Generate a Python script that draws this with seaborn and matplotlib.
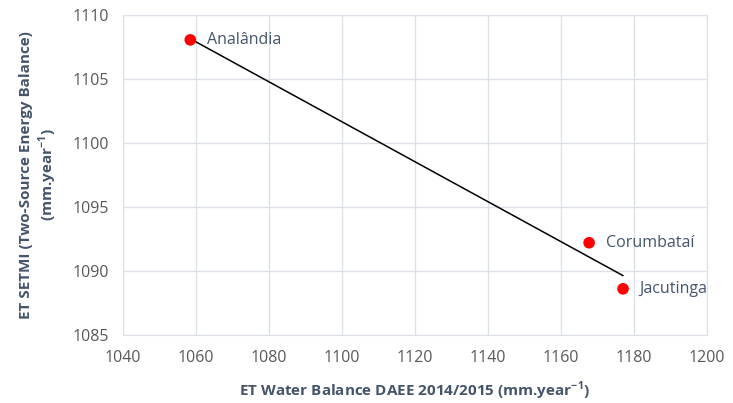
import seaborn as sns
import matplotlib.pyplot as plt
import pandas as pd

sites = ["Analândia", "Corumbataí", "Jacutinga"]
et_water_balance = [1058.4, 1167.7, 1177.0]
et_setmi = [1108.05, 1092.2, 1088.6]

df = pd.DataFrame({"site": sites, "wb": et_water_balance, "setmi": et_setmi})

sns.set_style("white")
plt.rcParams["font.family"] = ["Open Sans", "DejaVu Sans"]
plt.rcParams["mathtext.fontset"] = "custom"
plt.rcParams["mathtext.rm"] = "Open Sans"
plt.rcParams["mathtext.bf"] = "Open Sans:bold"

grid_col = "#DCE1E8"
text_col = "#44546A"

fig, ax = plt.subplots(figsize=(7.33, 4.03), dpi=100)
fig.subplots_adjust(left=0.168, right=0.9645, bottom=0.169, top=0.963)

sns.regplot(data=df, x="wb", y="setmi", ci=None, scatter=False,
            line_kws={"color": "black", "lw": 1.1}, ax=ax)
sns.scatterplot(data=df, x="wb", y="setmi", color="#FF0000", s=70,
                edgecolor="none", ax=ax, zorder=3)

for name, x, y in zip(sites, et_water_balance, et_setmi):
    ax.annotate(name, (x, y), xytext=(12, 0), textcoords="offset points",
                va="center", ha="left", fontsize=11.5, color=text_col)

ax.set_xlim(1040, 1200)
ax.set_ylim(1085, 1110)
ax.set_xticks(range(1040, 1201, 20))
ax.set_yticks(range(1085, 1111, 5))
ax.grid(True, color=grid_col, lw=1)
for s in ax.spines.values():
    s.set_color(grid_col)
ax.tick_params(colors="#595959", labelsize=11.5, length=0)
ax.tick_params(axis="x", pad=11)
ax.tick_params(axis="y", pad=10)
for lab in ax.get_xticklabels() + ax.get_yticklabels():
    lab.set_color("#595959")

ax.set_xlabel("ET Water Balance DAEE 2014/2015 (mm.year$^{\\mathbf{-1}}$)",
              fontsize=11, fontweight="bold", color=text_col, labelpad=10)
ax.set_ylabel("ET SETMI (Two-Source Energy Balance)\n(mm.year$^{\\mathbf{-1}}$)",
              fontsize=11, fontweight="bold", color=text_col, labelpad=10)

plt.savefig("out.png", dpi=100)
